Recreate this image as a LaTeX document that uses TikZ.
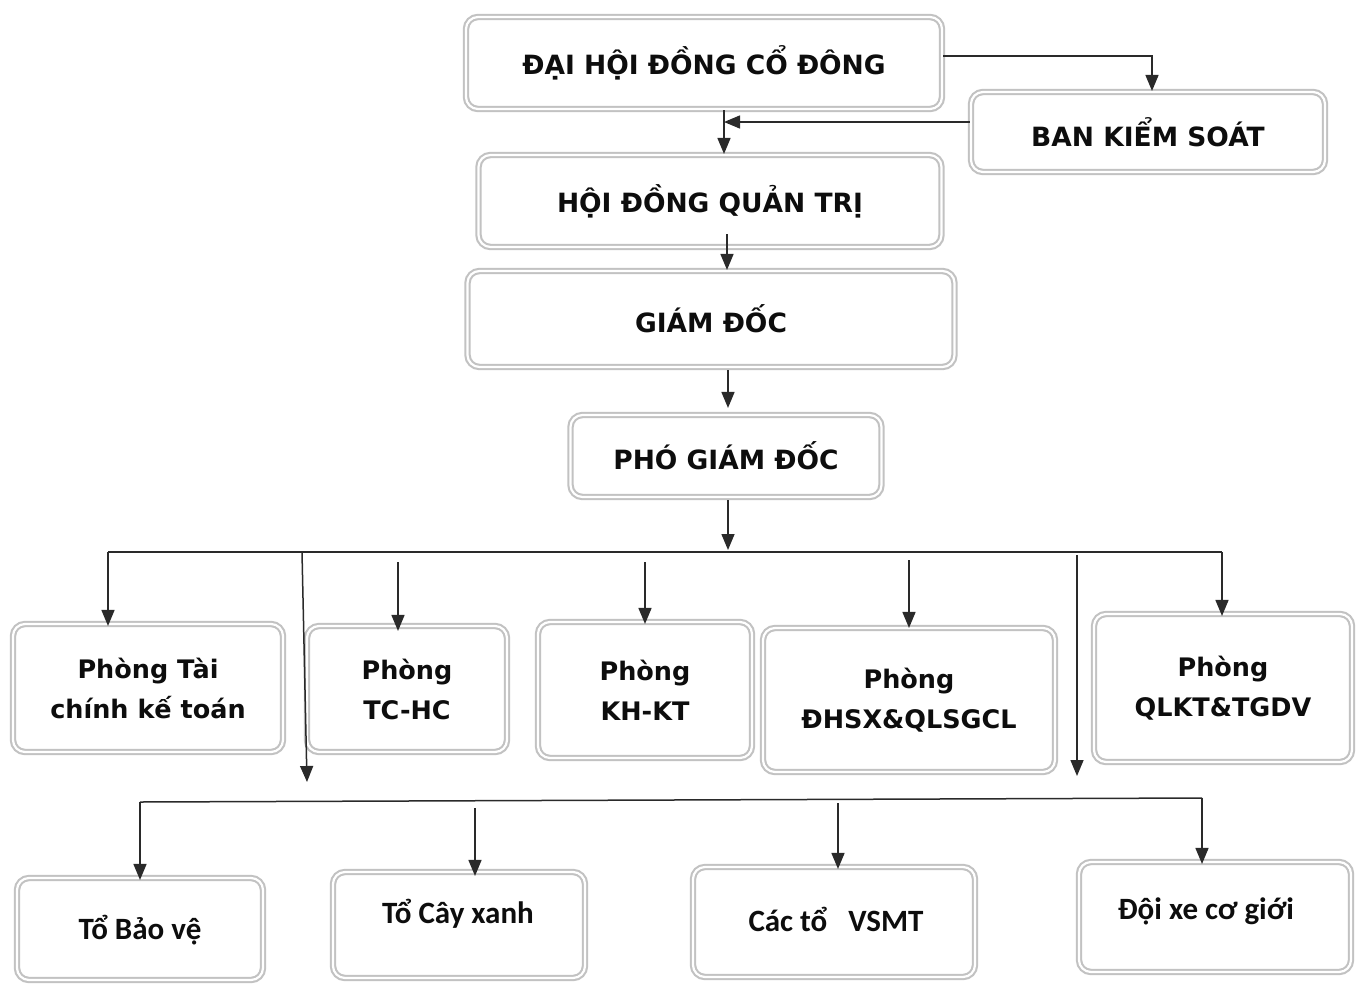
\documentclass[tikz,border=0pt]{standalone}
\usepackage{fontspec}
\usetikzlibrary{arrows.meta}
\newfontfamily\vfont{DejaVu Sans}[BoldFont={DejaVu Sans Bold}]
\newfontfamily\cfont{Carlito}
\definecolor{lnc}{HTML}{2A2A2A}
\definecolor{bord}{HTML}{C2C2C2}
\tikzset{
  box/.style={draw=bord, double=white, double distance=2.2pt, line width=2.1pt,
    rounded corners=12pt, fill=white, inner sep=0pt, align=center, text=black!95},
  topfont/.style={font=\vfont\bfseries\fontsize{26.5}{32}\selectfont},
  midfont/.style={font=\vfont\bfseries\fontsize{25.5}{40}\selectfont},
  lowfont/.style={font=\cfont\bfseries\fontsize{31}{36}\selectfont, text=black!95},
  arr/.style={draw=lnc, line width=1.5pt, -{Triangle[width=13pt,length=16pt]}},
  ln/.style={draw=lnc, line width=1.5pt},
}
\begin{document}
\begin{tikzpicture}[x=1pt,y=-1pt]
\useasboundingbox (0,0) rectangle (1357,983);
% top boxes
\node[box,topfont,minimum width=476pt,minimum height=92pt] (dh) at (704,63) {ĐẠI HỘI ĐỒNG CỔ ĐÔNG};
\node[box,topfont,minimum width=354pt,minimum height=80pt] (bks) at (1148,132) {BAN KIỂM SOÁT};
\node[box,topfont,minimum width=463pt,minimum height=92pt] (hd) at (710,201) {HỘI ĐỒNG QUẢN TRỊ};
\node[box,topfont,minimum width=487pt,minimum height=96pt] (gd) at (711,319) {GIÁM ĐỐC};
\node[box,topfont,minimum width=311pt,minimum height=82pt] (pgd) at (726,456) {PHÓ GIÁM ĐỐC};
% departments
\node[box,midfont,minimum width=270pt,minimum height=128pt] (ptc) at (148,688) {Phòng Tài\\chính kế toán};
\node[box,midfont,minimum width=200pt,minimum height=126pt] (phc) at (407,689) {Phòng\\TC-HC};
\node[box,midfont,minimum width=214pt,minimum height=136pt] (pkh) at (645,690) {Phòng\\KH-KT};
\node[box,midfont,minimum width=292pt,minimum height=144pt] (pdh) at (909,700) {Phòng\\ĐHSX\&QLSGCL};
\node[box,midfont,minimum width=258pt,minimum height=148pt] (pql) at (1223,688) {Phòng\\QLKT\&TGDV};
% teams
\node[box,minimum width=246pt,minimum height=102pt] (tbv) at (140,929) {};
\node[lowfont] (tbvt) at (140,930) {Tổ Bảo vệ};
\node[box,minimum width=252pt,minimum height=106pt] (tcx) at (459,925) {};
\node[lowfont] (tcxt) at (458,914) {Tổ Cây xanh};
\node[box,minimum width=282pt,minimum height=110pt] (vs) at (834,922) {};
\node[lowfont] (vst) at (836,919) {Các tổ \ \ VSMT};
\node[box,minimum width=272pt,minimum height=110pt] (dx) at (1215,917) {};
\node[lowfont] (dxt) at (1206,911) {Đội xe cơ giới};
% top connectors
\draw[arr] ([yshift=7pt]dh.east) -| ([xshift=4pt]bks.north);
\coordinate (v1) at (724,0);
\draw[arr] ([yshift=10pt]bks.west) -- ([yshift=10pt]bks.west -| v1);
\draw[arr] (dh.south -| v1) -- (hd.north -| v1);
\coordinate (v2) at (727,0);
\draw[arr] ([yshift=14pt]hd.south -| v2) -- (gd.north -| v2);
\coordinate (v3) at (728,0);
\draw[arr] ([yshift=-2pt]gd.south -| v3) -- ([yshift=6pt]pgd.north -| v3);
% department bus
\coordinate (b0) at (728,552);
\coordinate (b1) at (108,552);
\coordinate (b2) at (1222,552);
\draw[arr] ([yshift=-2pt]pgd.south -| v3) -- ([yshift=2pt]b0);
\draw[ln] (b1) -- (b2);
\draw[arr] (b1) -- ([yshift=-3pt]b1 |- ptc.north);
\coordinate (s2) at (398,562);
\draw[arr] (s2) -- ([yshift=-6pt]s2 |- phc.north);
\coordinate (s3) at (645,562);
\draw[arr] (s3) -- ([yshift=-3pt]s3 |- pkh.north);
\coordinate (s4) at (909,560);
\draw[arr] (s4) -- ([yshift=-1pt]s4 |- pdh.north);
\draw[arr] (b2) -- ([yshift=-3pt]b2 |- pql.north);
\coordinate (l1) at (302,552);
\coordinate (l1e) at (307,782);
\draw[arr] (l1) -- (l1e);
\coordinate (l2) at (1077,555);
\coordinate (l2e) at (1077,776);
\draw[arr] (l2) -- (l2e);
% team bus
\coordinate (c1) at (140,802);
\coordinate (c2) at (1202,798);
\draw[ln] (c1) -- (c2);
\draw[arr] (c1) -- ([yshift=-3pt]c1 |- tbv.north);
\coordinate (t2) at (475,808);
\draw[arr] (t2) -- ([yshift=-5pt]t2 |- tcx.north);
\coordinate (t3) at (838,803);
\draw[arr] (t3) -- ([yshift=-3pt]t3 |- vs.north);
\draw[arr] (c2) -- ([yshift=-3pt]c2 |- dx.north);
\end{tikzpicture}
\end{document}
